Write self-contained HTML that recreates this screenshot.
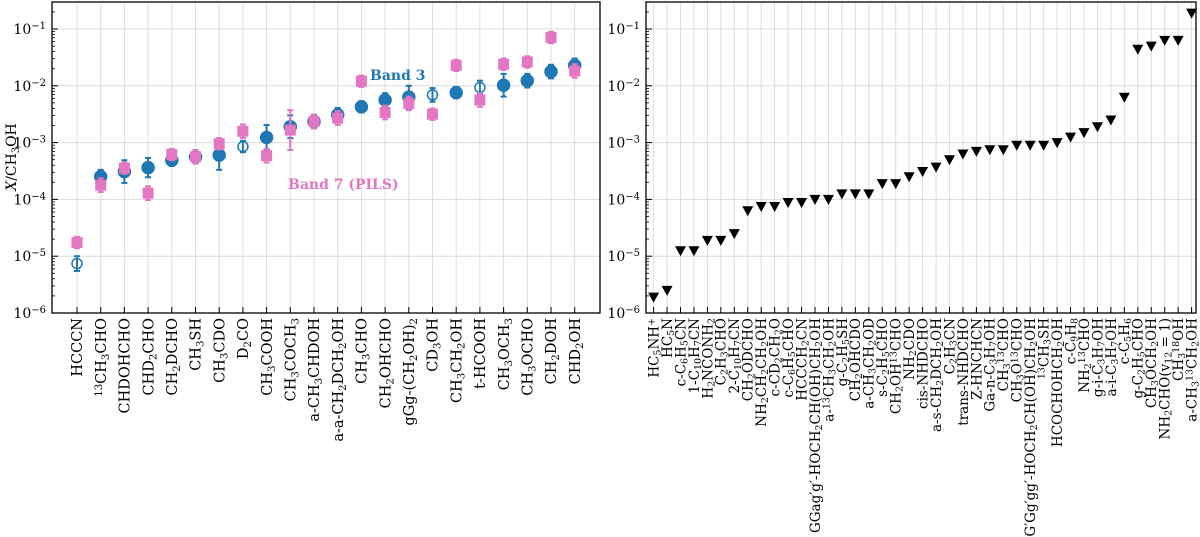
<!DOCTYPE html>
<html><head><meta charset="utf-8"><style>
body{margin:0;background:#fff;}
svg{display:block;font-family:"DejaVu Serif","Liberation Serif",serif;}
</style></head><body>
<svg id="chart" width="1200" height="537" viewBox="0 0 1200 537"></svg>
<script>
const leftCats=["HCCCN","^{13}CH_3CHO","CHDOHCHO","CHD_2CHO","CH_2DCHO","CH_3SH","CH_3CDO","D_2CO","CH_3COOH","CH_3COCH_3","a-CH_3CHDOH","a-a-CH_2DCH_2OH","CH_3CHO","CH_2OHCHO","gGg-(CH_2OH)_2","CD_3OH","CH_3CH_2OH","t-HCOOH","CH_3OCH_3","CH_3OCHO","CH_2DOH","CHD_2OH"];
const band3Log=[-5.13,-3.60,-3.51,-3.44,-3.31,-3.25,-3.22,-3.07,-2.91,-2.72,-2.63,-2.51,-2.37,-2.25,-2.20,-2.16,-2.12,-2.03,-1.99,-1.91,-1.75,-1.64];
const band3Err=[0.13,0.12,0.2,0.17,0.1,0.1,0.26,0.1,0.22,0.2,0.12,0.12,0.1,0.12,0.2,0.12,0.1,0.12,0.2,0.12,0.12,0.12];
const band3Open=[1,0,0,0,0,0,0,1,0,0,0,0,0,0,0,1,0,1,0,0,0,0];
const band7Log=[-4.76,-3.75,-3.45,-3.89,-3.21,-3.25,-3.02,-2.80,-3.23,-2.78,-2.63,-2.57,-1.92,-2.47,-2.31,-2.50,-1.64,-2.25,-1.62,-1.58,-1.15,-1.74];
const band7Err=[0.1,0.12,0.1,0.12,0.1,0.12,0.1,0.12,0.12,0.35,0.12,0.12,0.1,0.12,0.12,0.1,0.1,0.12,0.1,0.1,0.1,0.12];
const rightCats=["HC_5NH^{+}","HC_5N","c-C_6H_5CN","1-C_{10}H_7CN","H_2NCONH_2","C_2H_3CHO","2-C_{10}H_7CN","CH_2ODCHO","NH_2CH_2CH_2OH","c-CD_2CH_2O","c-C_6H_5CHO","HCCCH_2CN","GGag′g′-HOCH_2CH(OH)CH_2OH","a-^{13}CH_3CH_2OH","g-C_2H_5SH","CH_2OHCDO","a-CH_3CH_2OD","s-C_2H_5CHO","CH_2OH^{13}CHO","NH_2CDO","cis-NHDCHO","a-s-CH_2DCH_2OH","C_2H_3CN","trans-NHDCHO","Z-HNCHCN","Ga-n-C_3H_7OH","CH_3^{13}CHO","CH_3O^{13}CHO","G′Gg′gg′-HOCH_2CH(OH)CH_2OH","^{13}CH_3SH","HCOCHOHCH_2OH","c-C_9H_8","NH_2^{13}CHO","g-i-C_3H_7OH","a-i-C_3H_7OH","c-C_5H_6","g-C_2H_5CHO","CH_3OCH_2OH","NH_2CHO(v_{12} = 1)","CH_3^{18}OH","a-CH_3^{13}CH_2OH"];
const upperLimits=[1.9e-6,2.5e-6,1.25e-5,1.25e-5,1.9e-5,1.9e-5,2.5e-5,6.3e-5,7.5e-5,7.5e-5,8.8e-5,8.8e-5,1.0e-4,1.0e-4,1.25e-4,1.25e-4,1.25e-4,1.9e-4,1.9e-4,2.5e-4,3.1e-4,3.7e-4,5.0e-4,6.3e-4,7.0e-4,7.5e-4,7.5e-4,9.0e-4,9.0e-4,9.0e-4,1.0e-3,1.25e-3,1.5e-3,1.9e-3,2.5e-3,6.3e-3,4.4e-2,5.0e-2,6.3e-2,6.3e-2,0.19];
const yTickExp=[-6,-5,-4,-3,-2,-1];

const NS="http://www.w3.org/2000/svg";
const svg=document.getElementById('chart');
function el(t,a,p){const e=document.createElementNS(NS,t);for(const k in a)e.setAttribute(k,a[k]);(p||svg).appendChild(e);return e;}
const TOP=2,BOT=313,DEC=56.8;
function yLog(l){return 29+(-1-l)*DEC;}
function addRich(t,str,size){
  let i=0,buf="",mode=0;
  function flush(m){if(!buf)return;const ts=el('tspan',{},t);ts.textContent=buf;if(m){ts.setAttribute('font-size',size*0.7);ts.setAttribute('baseline-shift',m==1?'-25%':'45%');}buf="";}
  while(i<str.length){const c=str[i];
    if(c==='_'||c==='^'){flush(0);let s;i++;if(str[i]==='{'){const j=str.indexOf('}',i);s=str.slice(i+1,j);i=j+1;}else{s=str[i];i++;}buf=s;flush(c==='_'?1:2);}
    else{buf+=c;i++;}}
  flush(0);
}
function panel(name,x0,x1,cats,first,step,fs){
  const g=el('g',{});
  
  
  // grid
  for(let l=-7;l<=0;l++){for(let m=1;m<10;m++){const y=yLog(l+Math.log10(m));if(y<TOP||y>BOT)continue;
    if(m===1){el('line',{x1:x0,x2:x1,y1:y,y2:y,stroke:'#dcdcdc','stroke-width':1},g);
      el('line',{x1:x0,x2:x0+6,y1:y,y2:y,stroke:'#000','stroke-width':1},g);}
    else el('line',{x1:x0,x2:x0+3,y1:y,y2:y,stroke:'#000','stroke-width':0.8},g);}}
  cats.forEach((c,i)=>{const x=first+i*step;
    el('line',{x1:x,x2:x,y1:TOP,y2:BOT,stroke:'#dcdcdc','stroke-width':1},g);
    el('line',{x1:x,x2:x,y1:BOT,y2:BOT-6,stroke:'#000','stroke-width':1},g);
    const t=el('text',{transform:`translate(${x+fs*0.36},${BOT+5}) rotate(-90)`,'text-anchor':'end','font-size':fs,fill:'#000'},g);
    
    
    addRich(t,c,fs);});
  yTickExp.forEach(e=>{const y=yLog(e);const t=el('text',{x:x0-6,y:y+5,'text-anchor':'end','font-size':14},g);
    
    
    const a=el('tspan',{},t);a.textContent='10';const b=el('tspan',{'font-size':10,'baseline-shift':'55%'},t);b.textContent='−'+(-e);});
  el('rect',{x:x0,y:TOP,width:x1-x0,height:BOT-TOP,fill:'none',stroke:'#000','stroke-width':1.3},g);
  return g;
}
const L0=52,L1=600,LF=77,LS=23.7;
const gl=panel('detections-panel',L0,L1,leftCats,LF,LS,14.5);
// y title
const yt=el('text',{transform:'translate(16,157) rotate(-90)','text-anchor':'middle','font-size':14});


const yi=el('tspan',{'font-style':'italic'},yt);yi.textContent='X';
addRich(yt,'/CH_3OH',14);
const BLUE='#1f77b4',PINK='#e377c2';
function errbar(x,l,e,col,g){const y1=yLog(l+e),y2=yLog(l-e);
  el('line',{x1:x,x2:x,y1:y1,y2:y2,stroke:col,'stroke-width':2},g);
  el('line',{x1:x-3,x2:x+3,y1:y1,y2:y1,stroke:col,'stroke-width':2},g);
  el('line',{x1:x-3,x2:x+3,y1:y2,y2:y2,stroke:col,'stroke-width':2},g);}
band3Log.forEach((l,i)=>{const x=LF+i*LS,y=yLog(l);
  errbar(x,l,band3Err[i],BLUE,gl);
  const c=el('circle',{cx:x,cy:y,r:band3Open[i]?5:6,fill:band3Open[i]?'#fff':BLUE,stroke:BLUE,'stroke-width':1.5},gl);
  
  
  if(band3Open[i])el('line',{x1:x,x2:x,y1:y-5,y2:y+5,stroke:BLUE,'stroke-width':2},gl);});
band7Log.forEach((l,i)=>{const x=LF+i*LS,y=yLog(l);
  errbar(x,l,band7Err[i],PINK,gl);
  const r=el('rect',{x:x-5.5,y:y-5.5,width:11,height:11,fill:PINK},gl);
  
  });
const lb3=el('text',{x:370,y:80,'font-size':14,'font-weight':'bold',fill:BLUE});lb3.textContent='Band 3';


const lb7=el('text',{x:288,y:189,'font-size':14,'font-weight':'bold',fill:PINK});lb7.textContent='Band 7 (PILS)';



const R0=646,R1=1196,RF=653.6,RS=13.45;
const gr=panel('upper-limits-panel',R0,R1,rightCats,RF,RS,13.5);
upperLimits.forEach((v,i)=>{const x=RF+i*RS,y=yLog(Math.log10(v));
  const p=el('path',{d:`M${x-5.5},${y-4.5}L${x+5.5},${y-4.5}L${x},${y+5.5}Z`,fill:'#000'},gr);
  
  });
</script>
</body></html>
